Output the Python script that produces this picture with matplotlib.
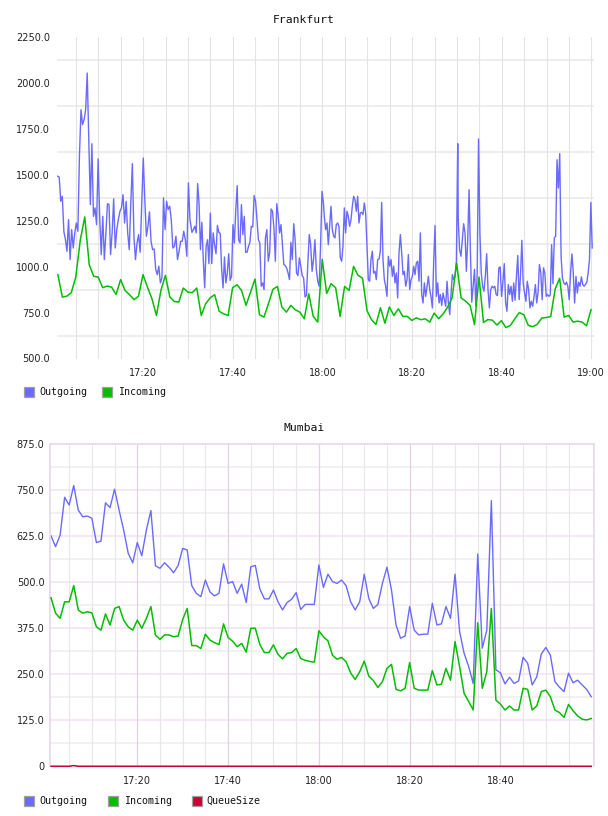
import matplotlib
matplotlib.use("Agg")
import matplotlib.pyplot as plt
import numpy as np
from matplotlib.patches import Rectangle

# ---------------- data ----------------
# Frankfurt - Outgoing, sampled ~every 20 s, in four half-hour blocks
fra_out_block_times = [("17:00:53", "17:30:25"), ("17:30:52", "18:00:12"),
                       ("18:00:24", "18:30:11"), ("18:30:18", "19:00:12")]
fra_out_a = [1491, 1487, 1355, 1382, 1190, 1147, 1083, 1255, 1038, 1201,
             1101, 1183, 1237, 1192, 1600, 1853, 1772, 1799, 1853, 2052,
             1700, 1337, 1668, 1273, 1319, 1228, 1585, 1273, 1065, 1273,
             1038, 1183, 1342, 1337, 1065, 1183, 1368, 1101, 1201, 1255,
             1300, 1319, 1391, 1237, 1355, 1183, 1092, 1346, 1560, 1165,
             1038, 1128, 1174, 1078, 1328, 1590, 1364, 1165, 1219, 1297,
             1137, 1092, 1096, 984, 956, 1002, 911, 938, 1373, 1201,
             1355, 1310, 1328, 1255, 1101, 1110, 1165, 1038, 1083, 1137,
             1137, 1192, 1147, 1056, 1455, 1255]
fra_out_b = [1186, 1201, 1219, 1183, 1451, 1346, 1092, 1241, 1038, 884,
             1110, 1146, 1016, 1291, 1016, 1183, 1119, 1070, 1224, 1186,
             1180, 984, 884, 1052, 911, 965, 1070, 925, 947, 1228,
             1128, 1310, 1440, 1146, 1128, 1337, 1174, 1273, 1078, 1078,
             1110, 1132, 1219, 1215, 1386, 1355, 1255, 1146, 1128, 893,
             911, 875, 1156, 1201, 1029, 1078, 1313, 1301, 1210, 1029,
             1342, 1277, 1183, 1228, 1119, 1011, 1005, 992, 965, 929,
             1132, 1038, 1233, 1146, 965, 951, 1047, 1002, 951, 938,
             835, 842, 1020, 1174, 1119, 974, 1038, 1146, 984, 920,
             893, 1110, 1409, 1349]
fra_out_c = [1273, 1201, 1237, 1119, 1219, 1328, 1201, 1165, 1156, 1228,
             1237, 1219, 1047, 1029, 1110, 1319, 1183, 1301, 1273, 1219,
             1255, 1328, 1382, 1364, 1301, 1382, 1237, 1291, 1295, 1283,
             1346, 1291, 1110, 929, 920, 1038, 1083, 965, 974, 929,
             1038, 1041, 1083, 1349, 1038, 929, 893, 838, 1056, 1002,
             1038, 947, 1002, 911, 965, 829, 1074, 1174, 1074, 956,
             974, 893, 929, 1065, 875, 929, 947, 1002, 956, 1020,
             1029, 920, 1183, 848, 802, 911, 838, 893, 947, 875,
             835, 775, 1029, 1223, 838, 911, 802, 848, 788, 856,
             820, 784, 920, 802, 739, 856, 956, 929, 947, 1029,
             1668]
fra_out_d = [1255, 1092, 1056, 1146, 1233, 1183, 974, 1146, 1418, 1074,
             806, 893, 984, 784, 965, 1694, 1183, 965, 893, 866,
             947, 1070, 875, 775, 875, 893, 884, 893, 848, 842,
             993, 998, 838, 915, 1016, 806, 757, 902, 848, 893,
             811, 911, 817, 947, 1060, 820, 951, 1143, 911, 856,
             811, 920, 875, 775, 811, 784, 835, 902, 802, 860,
             1011, 965, 820, 993, 965, 838, 848, 838, 845, 1119,
             907, 1156, 1165, 1581, 1427, 1614, 1056, 938, 911, 902,
             915, 893, 820, 965, 1069, 965, 802, 947, 856, 915,
             893, 944, 902, 893, 902, 915, 965, 1041, 1349, 1101]

# Frankfurt - Incoming, one sample per minute
fra_in_start = "17:00:56"
fra_in = [956, 834, 839, 858, 943, 1143, 1270, 1010, 947, 943,
          885, 894, 888, 848, 929, 870, 847, 820, 839, 956,
          888, 825, 734, 870, 952, 834, 810, 807, 883, 861,
          858, 883, 734, 798, 830, 847, 757, 743, 734, 885,
          901, 870, 789, 861, 932, 738, 725, 798, 876, 892,
          780, 752, 789, 765, 752, 716, 852, 729, 698, 1039,
          854, 907, 885, 729, 892, 870, 1001, 952, 937, 761,
          711, 685, 776, 692, 780, 734, 770, 729, 729, 707,
          721, 711, 716, 698, 747, 716, 743, 780, 830, 1019,
          830, 812, 789, 684, 943, 696, 712, 708, 682, 706,
          668, 680, 716, 750, 738, 680, 673, 686, 720, 723,
          728, 878, 936, 725, 734, 698, 703, 698, 678, 765]

# Mumbai, one sample per minute
mum_start = "17:01:00"
mum_out = [626, 597, 628, 731, 710, 763, 696, 678, 680, 674,
           608, 612, 716, 703, 753, 696, 642, 579, 553, 608,
           572, 642, 695, 545, 538, 553, 541, 526, 546, 592,
           588, 491, 470, 461, 506, 474, 463, 470, 550, 497,
           502, 470, 495, 445, 542, 546, 482, 455, 455, 479,
           447, 425, 445, 454, 472, 426, 440, 440, 440, 547,
           486, 522, 502, 497, 506, 491, 447, 425, 447, 522,
           456, 429, 440, 497, 541, 479, 384, 348, 354, 434,
           370, 357, 359, 359, 443, 384, 387, 434, 402, 522,
           366, 307, 271, 225, 577, 321, 370, 722, 262, 254,
           224, 242, 225, 232, 296, 280, 221, 243, 305, 323,
           302, 230, 215, 203, 253, 227, 234, 221, 209, 189]
mum_in = [458, 416, 402, 447, 447, 491, 425, 416, 420, 417,
          379, 370, 414, 384, 429, 434, 397, 379, 370, 397,
          375, 402, 434, 357, 345, 357, 357, 352, 354, 399,
          429, 328, 328, 320, 359, 343, 336, 331, 387, 350,
          340, 325, 334, 310, 375, 375, 331, 309, 309, 330,
          304, 292, 307, 309, 320, 293, 288, 285, 283, 368,
          352, 341, 302, 291, 296, 284, 254, 236, 257, 286,
          245, 233, 214, 230, 266, 277, 209, 205, 212, 282,
          212, 207, 207, 207, 260, 221, 223, 266, 234, 339,
          271, 198, 176, 153, 390, 212, 257, 429, 180, 169,
          153, 164, 153, 153, 212, 209, 153, 164, 203, 207,
          189, 153, 146, 133, 168, 151, 137, 128, 126, 130]
mum_queue = [0, 0, 0, 0, 0, 2, 0, 0, 0, 0,
             0, 0, 0, 0, 0, 0, 0, 0, 0, 0,
             0, 0, 0, 0, 0, 0, 0, 0, 0, 0,
             0, 0, 0, 0, 0, 0, 0, 0, 0, 0,
             0, 0, 0, 0, 0, 0, 0, 0, 0, 0,
             0, 0, 0, 0, 0, 0, 0, 0, 0, 0,
             0, 0, 0, 0, 0, 0, 0, 0, 0, 0,
             0, 0, 0, 0, 0, 0, 0, 0, 0, 0,
             0, 0, 0, 0, 0, 0, 0, 0, 0, 0,
             0, 0, 0, 0, 0, 0, 0, 0, 0, 0,
             0, 0, 0, 0, 0, 0, 0, 0, 0, 0,
             0, 0, 0, 0, 0, 0, 0, 0, 0, 0]

fra_ylabels = [500, 750, 1000, 1250, 1500, 1750, 2000, 2250]
mum_ylabels = [0, 125, 250, 375, 500, 625, 750, 875]
fra_xlabels = ["17:20", "17:40", "18:00", "18:20", "18:40", "19:00"]
mum_xlabels = ["17:20", "17:40", "18:00", "18:20", "18:40"]
series_names = ["Outgoing", "Incoming", "QueueSize"]

# ---------------- helpers ----------------
def to_min(s):
    parts = [int(p) for p in s.split(":")]
    sec = parts[2] if len(parts) > 2 else 0
    return (parts[0] - 17) * 60 + parts[1] + sec / 60.0

C_OUT = "#6a6aff"
C_IN = "#05bd05"
C_Q = "#cc0033"

W, H = 608, 816
fig = plt.figure(figsize=(W / 100, H / 100), dpi=100)
fig.patch.set_facecolor("white")

def px_axes(left, top, right, bottom):
    return fig.add_axes([left / W, 1 - bottom / H, (right - left) / W, (bottom - top) / H])

TICK_FONT = dict(family="DejaVu Sans", size=7)
MONO = ["DejaVu Sans Mono"]

# ---------------- Frankfurt ----------------
ax1 = px_axes(57, 36.7, 594, 358.5)
ax1.set_xlim(0.74, 120.6)
ax1.set_ylim(500, 2250)
for s in ax1.spines.values():
    s.set_visible(False)
for k in range(len(fra_ylabels) - 1):
    ax1.axhline((fra_ylabels[k] + fra_ylabels[k + 1]) / 2, color="#ececec", lw=1.3, zorder=0.5)
for m in range(5, 121, 5):
    ax1.axvline(m, color="#e4e4e4", lw=0.8, zorder=0.5)

fra_out_t, fra_out_v = [], []
for (t0, t1), blk in zip(fra_out_block_times, [fra_out_a, fra_out_b, fra_out_c, fra_out_d]):
    fra_out_t.extend(np.linspace(to_min(t0), to_min(t1), len(blk)))
    fra_out_v.extend(blk)
ax1.plot(fra_out_t, fra_out_v, color=C_OUT, lw=1.0, zorder=2)
fra_in_t = to_min(fra_in_start) + np.arange(len(fra_in))
ax1.plot(fra_in_t, fra_in, color=C_IN, lw=1.1, zorder=3)

ax1.set_yticks(fra_ylabels)
ax1.set_yticklabels([f"{v:.1f}" for v in fra_ylabels], **TICK_FONT)
ax1.set_xticks([to_min(s) for s in fra_xlabels])
ax1.set_xticklabels(fra_xlabels, **TICK_FONT)
ax1.tick_params(axis="y", length=0, pad=5, colors="#222222")
ax1.tick_params(axis="x", length=0, pad=6.5, colors="#222222")

# ---------------- Mumbai ----------------
ax2 = px_axes(50.3, 444.3, 593.5, 766.3)
ax2.set_xlim(0.84, 120.5)
ax2.set_ylim(0, 875)
for name in ["left", "top", "right"]:
    ax2.spines[name].set_color("#e8d8e8")
    ax2.spines[name].set_linewidth(1.2)
ax2.spines["bottom"].set_visible(False)
for k in range(len(mum_ylabels) - 1):
    ax2.axhline(mum_ylabels[k], color="#f2e6f2", lw=1.3, zorder=0.5)
    ax2.axhline((mum_ylabels[k] + mum_ylabels[k + 1]) / 2, color="#f0f0f0", lw=1.3, zorder=0.5)
major = [to_min(s) for s in mum_xlabels]
for m in range(5, 120, 5):
    if m in major:
        ax2.axvline(m, color="#e3d0e3", lw=0.9, zorder=0.6)
    else:
        ax2.axvline(m, color="#ebe4eb", lw=0.8, zorder=0.5)

mum_t = to_min(mum_start) + np.arange(len(mum_out))
ax2.plot(mum_t, mum_out, color=C_OUT, lw=1.0, zorder=2)
ax2.plot(mum_t, mum_in, color=C_IN, lw=1.1, zorder=3)
ax2.plot(mum_t, mum_queue, color=C_Q, lw=1.1, zorder=4, clip_on=False)

ax2.set_yticks(mum_ylabels)
ax2.set_yticklabels(["0" if v == 0 else f"{v:.1f}" for v in mum_ylabels], **TICK_FONT)
ax2.set_xticks(major)
ax2.set_xticklabels(mum_xlabels, **TICK_FONT)
ax2.tick_params(axis="y", length=0, pad=4.3, colors="#222222")
ax2.tick_params(axis="x", length=0, pad=7.2, colors="#222222")

# ---------------- titles ----------------
fig.text(304 / W, 1 - 20 / H, "Frankfurt", ha="center", va="center", family=MONO, size=8.2, color="#111111")
fig.text(304 / W, 1 - 428 / H, "Mumbai", ha="center", va="center", family=MONO, size=8.2, color="#111111")

# ---------------- legends ----------------
def legend(entries, yc):
    for label, color, xb, xt in entries:
        fig.patches.append(Rectangle((xb / W, 1 - (yc + 5) / H), 10 / W, 10 / H,
                                     transform=fig.transFigure, facecolor=color,
                                     edgecolor="#a0a0a0", lw=0.9))
        fig.text(xt / W, 1 - yc / H, label, ha="left", va="center",
                 family=MONO, size=7.2, color="#111111")

legend([(series_names[0], C_OUT, 24.3, 39), (series_names[1], C_IN, 102, 118)], 392)
legend([(series_names[0], C_OUT, 24.3, 39), (series_names[1], C_IN, 108.3, 123.7),
        (series_names[2], C_Q, 192.3, 206.7)], 800.7)

fig.savefig("out.png", dpi=100)
